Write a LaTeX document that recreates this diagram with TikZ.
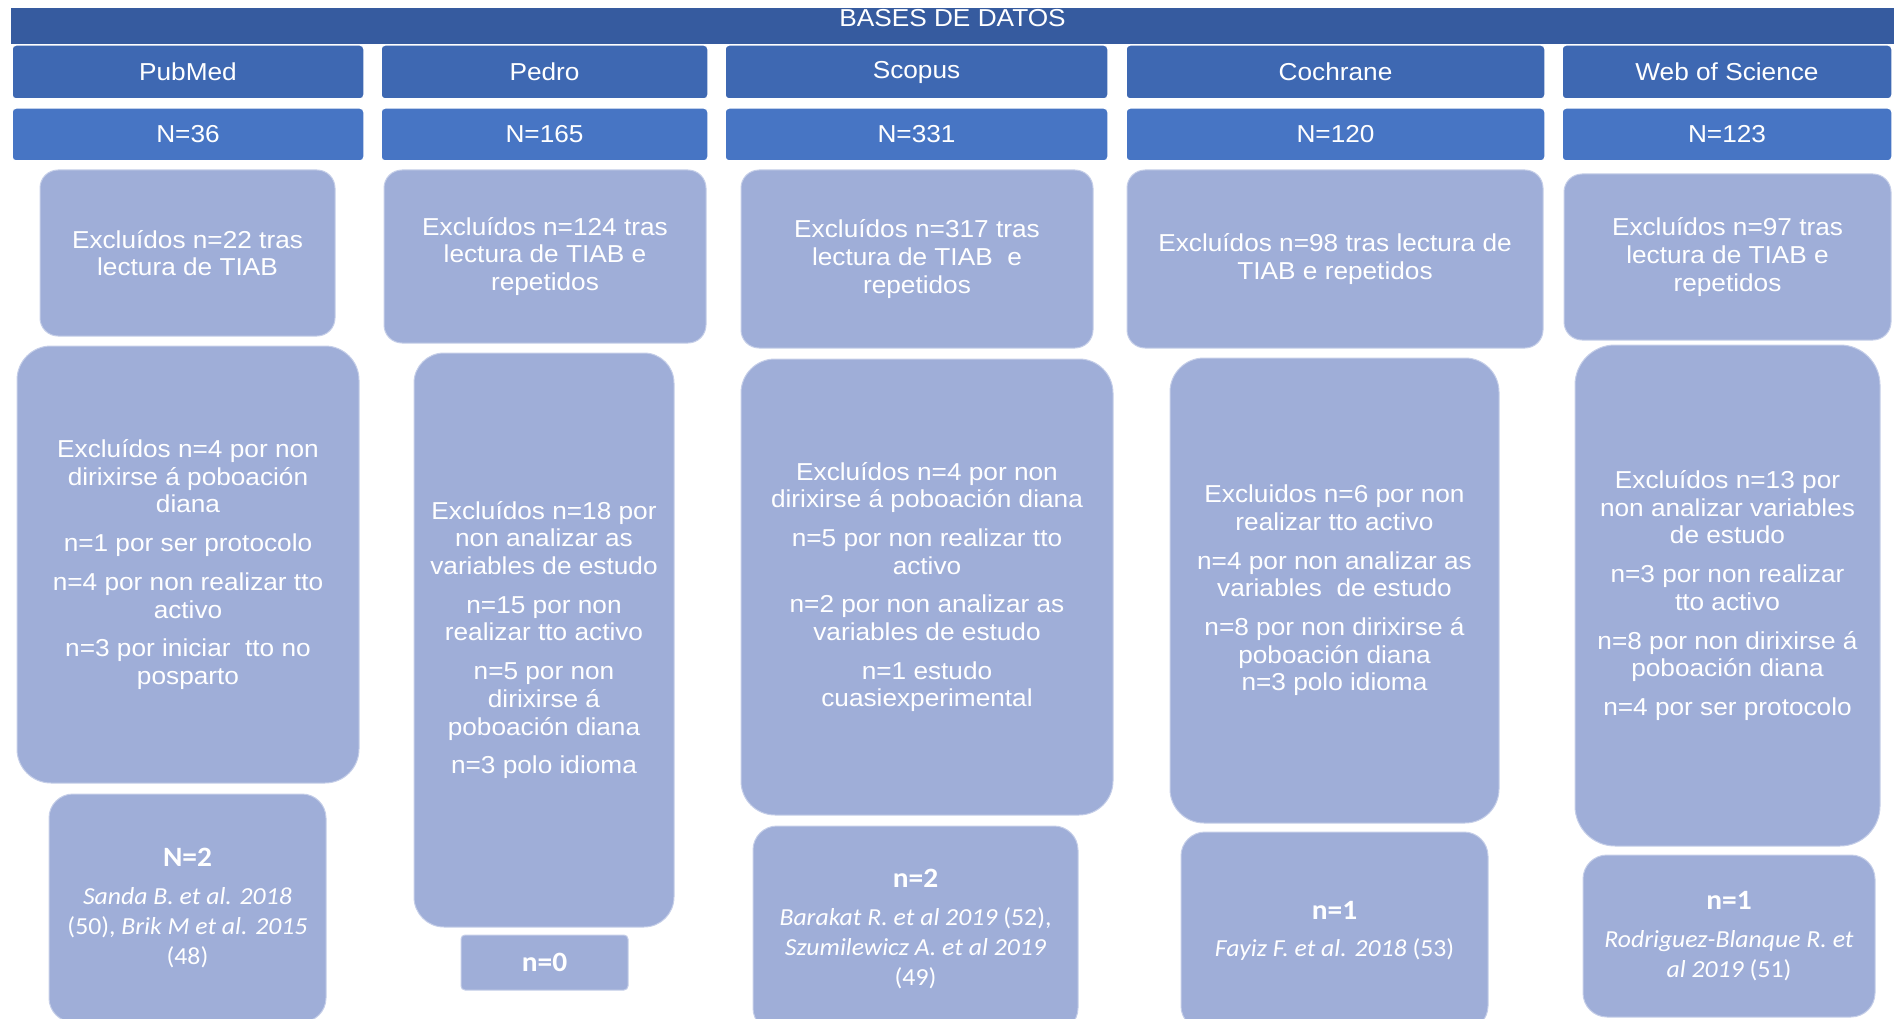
\documentclass[tikz,border=0pt]{standalone}
\usepackage{fontspec}
\setmainfont[FakeStretch=1.07]{Liberation Sans}
\newfontfamily\refsfont[FakeStretch=1.05]{Carlito}
\usepackage{tikz}

\definecolor{faixaazul}{HTML}{365B9F}
\definecolor{baseazul}{HTML}{3E68B2}
\definecolor{totalazul}{HTML}{4775C4}
\definecolor{cajaazul}{HTML}{9FAED8}

\tikzset{
  tam/.style 2 args={minimum width=#1pt, minimum height=#2pt},
  texto/.style={text=white, align=center, inner sep=0pt, font=\fontsize{24.5}{27.7}\selectfont},
  base/.style={texto, rectangle, rounded corners=4pt, draw=white, line width=1.5pt, fill=baseazul},
  total/.style={base, fill=totalazul},
  criba/.style={texto, rectangle, rounded corners=18pt, fill=cajaazul, draw=white!40!cajaazul, line width=1pt},
  exclusion/.style={criba, rounded corners=34pt},
  final/.style={criba, rounded corners=24pt, font=\refsfont\fontsize{24.5}{29.7}\selectfont},
}
\newcommand{\nfinal}[1]{{\bfseries\fontsize{28}{30}\selectfont #1}}

\begin{document}
\begin{tikzpicture}[x=1pt, y=-1pt]
  \useasboundingbox (0,0) rectangle (1894,1019);
  \clip (0,0) rectangle (1894,1019);

  % faixa superior
  \node[rectangle, fill=faixaazul, inner sep=0pt, tam={1883}{36}] (faixa) at (952.5,26) {};
  \node[texto, anchor=north] (titulo) at ([yshift=-1pt]faixa.north) {BASES DE DATOS};

  % bases de datos e totais
  \node[base, tam={352}{54}] (bdPubmed) at (188,72) {PubMed};
  \node[base, tam={327}{54}] (bdPedro) at (544.5,72) {Pedro};
  \node[base, tam={383}{54}] (bdScopus) at (916.5,72) {Scopus};
  \node[base, tam={419}{54}] (bdCochrane) at (1335.5,72) {Cochrane};
  \node[base, tam={330}{54}] (bdWos) at (1727,72) {Web of Science};

  \node[total, tam={352}{53}] (nPubmed) at (188,134.5) {N=36};
  \node[total, tam={327}{53}] (nPedro) at (544.5,134.5) {N=165};
  \node[total, tam={383}{53}] (nScopus) at (916.5,134.5) {N=331};
  \node[total, tam={419}{53}] (nCochrane) at (1335.5,134.5) {N=120};
  \node[total, tam={330}{53}] (nWos) at (1727,134.5) {N=123};

  % excluidos tras lectura de TIAB
  \node[criba, tam={295}{166}] (tiabPubmed) at (187.5,253)
    {Excluídos n=22 tras\\lectura de TIAB};
  \node[criba, tam={322}{173}] (tiabPedro) at (545,256.5)
    {Excluídos n=124 tras\\lectura de TIAB e\\repetidos};
  \node[criba, tam={352}{178}] (tiabScopus) at (917,259)
    {Excluídos n=317 tras\\lectura de TIAB\ \ e\\repetidos};
  \node[criba, tam={416}{178}] (tiabCochrane) at (1335,259)
    {Excluídos n=98 tras lectura de\\TIAB e repetidos};
  \node[criba, tam={327}{166}] (tiabWos) at (1727.5,257)
    {Excluídos n=97 tras\\lectura de TIAB e\\repetidos};

  % excluidos por criterios
  \node[exclusion, tam={342}{437}] (exclPubmed) at (188,564.5)
    {Excluídos n=4 por non\\dirixirse á poboación\\diana\\[11pt]
     n=1 por ser protocolo\\[11pt]
     n=4 por non realizar tto\\activo\\[11pt]
     n=3 por iniciar\ \ tto no\\posparto};
  \node[exclusion, rounded corners=30pt, tam={260}{574}] (exclPedro) at (544,640)
    {Excluídos n=18 por\\non analizar as\\variables de estudo\\[11pt]
     n=15 por non\\realizar tto activo\\[11pt]
     n=5 por non\\dirixirse á\\poboación diana\\[11pt]
     n=3 polo idioma};
  \node[exclusion, tam={372}{456}] (exclScopus) at (927,587)
    {Excluídos n=4 por non\\dirixirse á poboación diana\\[11pt]
     n=5 por non realizar tto\\activo\\[11pt]
     n=2 por non analizar as\\variables de estudo\\[11pt]
     n=1 estudo\\cuasiexperimental};
  \node[exclusion, tam={329}{465}] (exclCochrane) at (1334.5,590.5)
    {Excluidos n=6 por non\\realizar tto activo\\[11pt]
     n=4 por non analizar as\\variables\ \ de estudo\\[11pt]
     n=8 por non dirixirse á\\poboación diana\\n=3 polo idioma};
  \node[exclusion, rounded corners=40pt, tam={305}{501}] (exclWos) at (1727.5,595.5)
    {Excluídos n=13 por\\non analizar variables\\de estudo\\[11pt]
     n=3 por non realizar\\tto activo\\[11pt]
     n=8 por non dirixirse á\\poboación diana\\[11pt]
     n=4 por ser protocolo};

  % estudos incluidos
  \node[final, tam={277}{228}] (finPubmed) at (187.5,908)
    {\nfinal{N=2}\\[8pt]\textit{Sanda B. et al. 2018}\\(50), \textit{Brik M et al. 2015}\\(48)};
  \node[final, rounded corners=4pt, tam={167}{55}] (finPedro) at (544.5,962.5)
    {\nfinal{n=0}};
  \node[final, tam={325}{206}] (finScopus) at (915.5,929)
    {\nfinal{n=2}\\[8pt]\textit{Barakat R. et al 2019} (52),\\\textit{Szumilewicz A. et al 2019}\\(49)};
  \node[final, tam={307}{198}] (finCochrane) at (1334.5,931)
    {\nfinal{n=1}\\[8pt]\textit{Fayiz F. et al. 2018} (53)};
  \node[final, tam={292}{162}] (finWos) at (1729,936)
    {\nfinal{n=1}\\[8pt]\textit{Rodriguez-Blanque R. et}\\\textit{al 2019} (51)};
\end{tikzpicture}
\end{document}
